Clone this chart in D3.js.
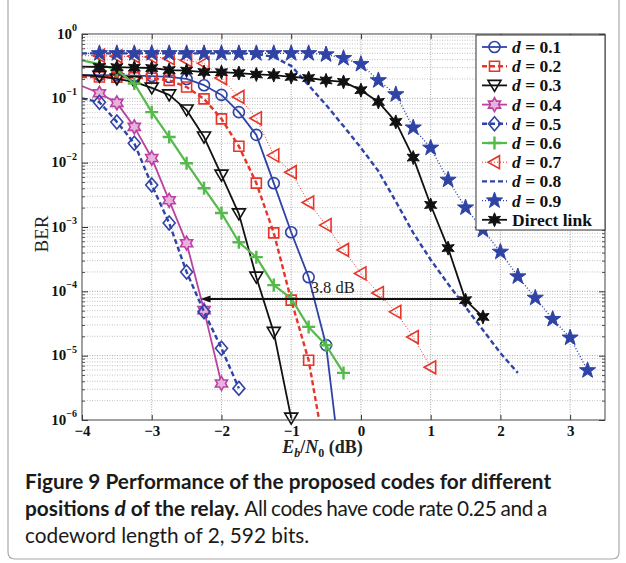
<!DOCTYPE html>
<html>
<head>
<meta charset="utf-8">
<script src="https://cdn.jsdelivr.net/npm/d3@7"></script>
<style>
  body { margin: 0; background: #fff; }
  svg { display: block; }
</style>
</head>
<body>
<div id="chart"></div>
<script>
// Eb/N0 grid (dB), every curve starts at -4 and uses the first N points
var ebn0Grid = [-4, -3.75, -3.5, -3.25, -3, -2.75, -2.5, -2.25, -2, -1.75, -1.5, -1.25, -1, -0.75, -0.5,
                -0.25, 0, 0.25, 0.5, 0.75, 1, 1.25, 1.5, 1.75, 2, 2.25, 2.5, 2.75, 3, 3.25];

// BER
var ber01 = [0.23, 0.23, 0.228, 0.225, 0.222, 0.215, 0.2, 0.16, 0.113, 0.061, 0.027, 0.0048, 8.3e-4, 1.66e-4, 1.46e-5, 8e-8];
var ber02 = [0.215, 0.215, 0.214, 0.21, 0.205, 0.19, 0.15, 0.098, 0.048, 0.018, 0.0048, 8.1e-4, 7.3e-5, 8.5e-6, 2.4e-7];
var ber03 = [0.23, 0.22, 0.2, 0.18, 0.145, 0.113, 0.066, 0.025, 0.0064, 0.0016, 1.66e-4, 2.3e-5, 1.07e-6];
var ber04 = [0.155, 0.12, 0.085, 0.036, 0.0118, 0.0026, 5.6e-4, 5.1e-5, 3.7e-6];
var ber05 = [0.1, 0.087, 0.043, 0.02, 0.0045, 0.00115, 2.0e-4, 4.8e-5, 1.3e-5, 3.1e-6];
var ber06 = [0.39, 0.34, 0.275, 0.17, 0.061, 0.025, 0.0098, 0.004, 0.00165, 5.8e-4, 3.4e-4, 1.25e-4, 7.8e-5, 2.8e-5, 1.45e-5, 5.4e-6];
var ber07 = [0.46, 0.46, 0.45, 0.45, 0.44, 0.42, 0.39, 0.35, 0.207, 0.105, 0.049, 0.013, 0.0071, 0.0024, 0.00107, 4.4e-4,
             1.9e-4, 9.4e-5, 4.8e-5, 1.95e-5, 6.6e-6];
var ber08 = [0.5, 0.5, 0.5, 0.5, 0.5, 0.5, 0.5, 0.5, 0.5, 0.5, 0.49, 0.44, 0.32, 0.16, 0.079, 0.037,
             0.017, 0.0074, 0.0025, 8.1e-4, 3.1e-4, 1.3e-4, 5.7e-5, 2.5e-5, 1.1e-5, 5.4e-6];
var ber09 = [0.5, 0.5, 0.5, 0.5, 0.5, 0.5, 0.5, 0.5, 0.5, 0.5, 0.5, 0.5, 0.5, 0.5, 0.48, 0.42,
             0.34, 0.19, 0.115, 0.035, 0.017, 0.0054, 0.002, 9e-4, 4.1e-4, 1.7e-4, 7.9e-5, 3.7e-5, 1.9e-5, 5.9e-6];
var berDirect = [0.31, 0.307, 0.305, 0.3, 0.296, 0.275, 0.27, 0.256, 0.255, 0.247, 0.235, 0.23, 0.215, 0.207, 0.19, 0.18,
                 0.134, 0.088, 0.043, 0.012, 0.0022, 4.7e-4, 7.3e-5, 4.0e-5];

var legendLabels = ["0.1", "0.2", "0.3", "0.4", "0.5", "0.6", "0.7", "0.8", "0.9", "Direct link"];
var xTickValues = [-4, -3, -2, -1, 0, 1, 2, 3];
var yTickExponents = [0, -1, -2, -3, -4, -5, -6];

// 3.8 dB gap annotation
var gapBer = 7.6e-5;
var gapFrom = 1.5;
var gapTo = -2.3;
var gapLabel = "3.8 dB";

var blue = "#2f43a6", red = "#e6352a", green = "#56b94c", magenta = "#bb41a2", black = "#111";

var series = [
  {ber: ber01, color: blue,    dash: null,  sw: 1.8, marker: "o"},
  {ber: ber02, color: red,     dash: "5,3", sw: 2.4, marker: "s"},
  {ber: ber03, color: black,   dash: null,  sw: 1.8, marker: "v"},
  {ber: ber04, color: magenta, dash: null,  sw: 1.8, marker: "h"},
  {ber: ber05, color: blue,    dash: "5,3", sw: 2.4, marker: "d"},
  {ber: ber06, color: green,   dash: null,  sw: 2.2, marker: "+"},
  {ber: ber07, color: red,     dash: "1,2", sw: 1.0, marker: "<"},
  {ber: ber08, color: blue,    dash: "5,3", sw: 2.4, marker: null},
  {ber: ber09, color: blue,    dash: "1,2", sw: 1.4, marker: "p"},
  {ber: berDirect, color: black, dash: null, sw: 1.8, marker: "*"}
];

var W = 626, H = 563;
var margin = {top: 34, right: 21, bottom: 143, left: 82};
var width = W - margin.left - margin.right;
var height = H - margin.top - margin.bottom;
var serif = "'Liberation Serif', 'Times New Roman', serif";

var root = d3.select("#chart").append("svg")
  .attr("width", W)
  .attr("height", H);

// figure frame (rounded bottom corners)
root.append("path")
  .attr("d", "M8,-2 V552 Q8,559 15,559 H612 Q619,559 619,552 V-2")
  .attr("fill", "none")
  .attr("stroke", "#a8a8a8")
  .attr("stroke-width", 1.2);

var svg = root.append("g")
  .attr("transform", "translate(" + margin.left + "," + margin.top + ")");

var x = d3.scaleLinear().domain([-4, 3.5]).range([0, width]);
var y = d3.scaleLog().domain([1e-6, 1]).range([height, 0]);

svg.append("defs").append("clipPath").attr("id", "plotclip")
  .append("rect").attr("width", width).attr("height", height);

// grid
var minorY = [];
yTickExponents.forEach(function(e) {
  if (e === 0) return;
  for (var k = 2; k <= 9; k++) minorY.push(k * Math.pow(10, e));
});
var grid = svg.append("g");
grid.selectAll(".gminor").data(minorY).enter().append("line")
  .attr("x1", 0).attr("x2", width)
  .attr("y1", function(d) { return y(d); }).attr("y2", function(d) { return y(d); })
  .attr("stroke", "#b4b4b4").attr("stroke-width", 0.8).attr("stroke-dasharray", "1,1.5");
grid.selectAll(".gmajor").data(yTickExponents.slice(1, -1)).enter().append("line")
  .attr("x1", 0).attr("x2", width)
  .attr("y1", function(e) { return y(Math.pow(10, e)); }).attr("y2", function(e) { return y(Math.pow(10, e)); })
  .attr("stroke", "#9a9a9a").attr("stroke-width", 0.9).attr("stroke-dasharray", "1,1.5");
grid.selectAll(".gx").data(xTickValues.slice(1)).enter().append("line")
  .attr("x1", function(d) { return x(d); }).attr("x2", function(d) { return x(d); })
  .attr("y1", 0).attr("y2", height)
  .attr("stroke", "#9a9a9a").attr("stroke-width", 0.9).attr("stroke-dasharray", "1,1.5");

// marker shapes
function starPoints(n, rOut, rIn, rot) {
  var pts = [];
  for (var i = 0; i < 2 * n; i++) {
    var r = i % 2 === 0 ? rOut : rIn;
    var a = rot + i * Math.PI / n;
    pts.push([r * Math.sin(a), -r * Math.cos(a)]);
  }
  return "M" + pts.map(function(p) { return p[0].toFixed(2) + "," + p[1].toFixed(2); }).join("L") + "Z";
}
function markerPath(type) {
  switch (type) {
    case "o": return "M5.5,0A5.5,5.5 0 1,1 -5.5,0A5.5,5.5 0 1,1 5.5,0Z";
    case "s": return "M-5,-5H5V5H-5Z";
    case "v": return "M0,6L-6.5,-5H6.5Z";
    case "h": return starPoints(6, 7, 4.04, 0);
    case "d": return "M0,-7L6,0L0,7L-6,0Z";
    case "+": return "M-6.5,0H6.5M0,-6.5V6.5";
    case "<": return "M-6.5,0L5,-6.5V6.5Z";
    case "p": return starPoints(5, 8.5, 3.4, 0);
    case "*": return starPoints(6, 7, 3.3, 0);
  }
  return null;
}
function markerFill(s) {
  if (s.marker === "p") return s.color;
  if (s.marker === "*") return s.color;
  if (s.marker === "h") return "#e7b3dc";
  return "none";
}
function markerStroke(s) {
  return s.marker === "+" ? 2.4 : (s.marker === "p" || s.marker === "*" ? 1 : 1.6);
}

var line = d3.line()
  .x(function(d) { return x(d.x); })
  .y(function(d) { return y(d.y); });

var plot = svg.append("g");
series.forEach(function(s) {
  var pts = s.ber.map(function(v, i) { return {x: ebn0Grid[i], y: v}; });
  plot.append("path")
    .datum(pts)
    .attr("clip-path", "url(#plotclip)")
    .attr("fill", "none")
    .attr("stroke", s.color)
    .attr("stroke-width", s.sw)
    .attr("stroke-dasharray", s.dash)
    .attr("stroke-linejoin", "round")
    .attr("d", line);
  if (!s.marker) return;
  plot.selectAll(null)
    .data(pts.filter(function(d) { return d.x > -4 && d.y >= 1e-6; }))
    .enter().append("path")
      .attr("transform", function(d) { return "translate(" + x(d.x) + "," + y(d.y) + ")"; })
      .attr("d", markerPath(s.marker))
      .attr("fill", markerFill(s))
      .attr("stroke", s.color)
      .attr("stroke-width", markerStroke(s))
      .attr("stroke-linejoin", "miter");
});

// gap arrow
svg.append("line")
  .attr("x1", x(gapFrom)).attr("x2", x(gapTo) + 8)
  .attr("y1", y(gapBer)).attr("y2", y(gapBer))
  .attr("stroke", black).attr("stroke-width", 1.8);
svg.append("path")
  .attr("d", "M" + x(gapTo) + "," + y(gapBer) + "l10,-3.5v7z")
  .attr("fill", black);
svg.append("text")
  .attr("x", x(-0.72)).attr("y", y(gapBer) - 6)
  .attr("font-family", serif).attr("font-size", 16.5)
  .attr("fill", "#222")
  .text(gapLabel);

// axes
var xAxis = d3.axisBottom(x).tickValues(xTickValues).tickSize(-5).tickPadding(5)
  .tickFormat(d3.format("d"));
var gx = svg.append("g").attr("transform", "translate(0," + height + ")").call(xAxis);
gx.select(".domain").remove();
gx.selectAll("text").attr("font-family", serif).attr("font-size", 15).attr("font-weight", "bold").attr("fill", "#111");
gx.selectAll("line").attr("stroke", "#333");

var xTop = d3.axisTop(x).tickValues(xTickValues).tickSize(-5).tickFormat("");
var gxt = svg.append("g").call(xTop);
gxt.select(".domain").remove();
gxt.selectAll("line").attr("stroke", "#333");

var yAll = yTickExponents.map(function(e) { return Math.pow(10, e); });
var yAxis = d3.axisLeft(y).tickValues(yAll).tickSize(-6).tickPadding(11);
var gy = svg.append("g").call(yAxis);
gy.select(".domain").remove();
gy.selectAll("line").attr("stroke", "#333");
gy.selectAll("text").each(function(d) {
  var t = d3.select(this).text(null)
    .attr("font-family", serif).attr("font-weight", "bold").attr("fill", "#111")
    .attr("dy", "0.4em").attr("dx", "-1");
  t.append("tspan").attr("font-size", 15).text("10");
  t.append("tspan").attr("font-size", 10).attr("dy", "-0.75em")
    .text(Math.round(Math.log10(d)) === 0 ? "0" : "\u2212" + Math.abs(Math.round(Math.log10(d))));
});
gy.selectAll(".tick text").attr("x", -4);

var yMinorTicks = d3.axisLeft(y).tickValues(minorY).tickSize(-3).tickFormat("");
var gym = svg.append("g").call(yMinorTicks);
gym.select(".domain").remove();
gym.selectAll("line").attr("stroke", "#555");
var gyr = svg.append("g").attr("transform", "translate(" + width + ",0)")
  .call(d3.axisRight(y).tickValues(yAll).tickSize(-6).tickFormat(""));
gyr.select(".domain").remove();
gyr.selectAll("line").attr("stroke", "#333");
var gyrm = svg.append("g").attr("transform", "translate(" + width + ",0)")
  .call(d3.axisRight(y).tickValues(minorY).tickSize(-3).tickFormat(""));
gyrm.select(".domain").remove();
gyrm.selectAll("line").attr("stroke", "#555");

// axes box
svg.append("rect")
  .attr("width", width).attr("height", height)
  .attr("fill", "none").attr("stroke", "#444").attr("stroke-width", 1);

// axis titles
svg.append("text")
  .attr("transform", "translate(-34," + (height / 2 + 7) + ") rotate(-90)")
  .attr("text-anchor", "middle")
  .attr("font-family", serif).attr("font-size", 19).attr("fill", "#222")
  .text("BER");

var xl = svg.append("text")
  .attr("x", x(-0.55)).attr("y", height + 33)
  .attr("text-anchor", "middle")
  .attr("font-family", serif).attr("font-size", 18).attr("font-weight", "bold").attr("fill", "#222");
xl.append("tspan").attr("font-style", "italic").text("E");
xl.append("tspan").attr("font-style", "italic").attr("font-size", 12).attr("dy", 4).text("b");
xl.append("tspan").attr("dy", -4).text("/");
xl.append("tspan").attr("font-style", "italic").text("N");
xl.append("tspan").attr("font-size", 12).attr("dy", 4).text("0");
xl.append("tspan").attr("dy", -4).text(" (dB)");

// legend
var lg = svg.append("g").attr("transform", "translate(394,1)");
lg.append("rect")
  .attr("width", 129).attr("height", 195)
  .attr("fill", "#fff").attr("stroke", "#333").attr("stroke-width", 1);
series.forEach(function(s, i) {
  var ry = 12 + i * 19.2;
  lg.append("line")
    .attr("x1", 6).attr("x2", 31).attr("y1", ry).attr("y2", ry)
    .attr("stroke", s.color).attr("stroke-width", s.sw)
    .attr("stroke-dasharray", s.dash);
  if (s.marker) {
    lg.append("path")
      .attr("transform", "translate(18.5," + ry + ")")
      .attr("d", markerPath(s.marker))
      .attr("fill", markerFill(s))
      .attr("stroke", s.color)
      .attr("stroke-width", markerStroke(s));
  }
  var t = lg.append("text")
    .attr("x", 36).attr("y", ry + 6)
    .attr("font-family", serif).attr("font-size", 17.5).attr("font-weight", "bold").attr("fill", "#111");
  if (legendLabels[i] === "Direct link") {
    t.text(legendLabels[i]);
  } else {
    t.append("tspan").attr("font-style", "italic").text("d");
    t.append("tspan").text(" = " + legendLabels[i]);
  }
});

// caption
var capFont = "Lato, 'Open Sans', sans-serif";
var cap = root.append("g").attr("font-family", capFont).attr("font-size", 20.8).attr("fill", "#1a1a1a");
cap.append("text").attr("x", 25).attr("y", 489).attr("font-weight", "bold")
  .text("Figure 9 Performance of the proposed codes for different");
var c2 = cap.append("text").attr("x", 25).attr("y", 516);
c2.append("tspan").attr("font-weight", "bold").text("positions ");
c2.append("tspan").attr("font-weight", "bold").attr("font-style", "italic").text("d");
c2.append("tspan").attr("font-weight", "bold").text(" of the relay. ");
c2.append("tspan").attr("letter-spacing", -0.45).attr("word-spacing", -0.6)
  .text("All codes have code rate 0.25 and a");
cap.append("text").attr("x", 25).attr("y", 543)
  .text("codeword length of 2, 592 bits.");
</script>
</body>
</html>
